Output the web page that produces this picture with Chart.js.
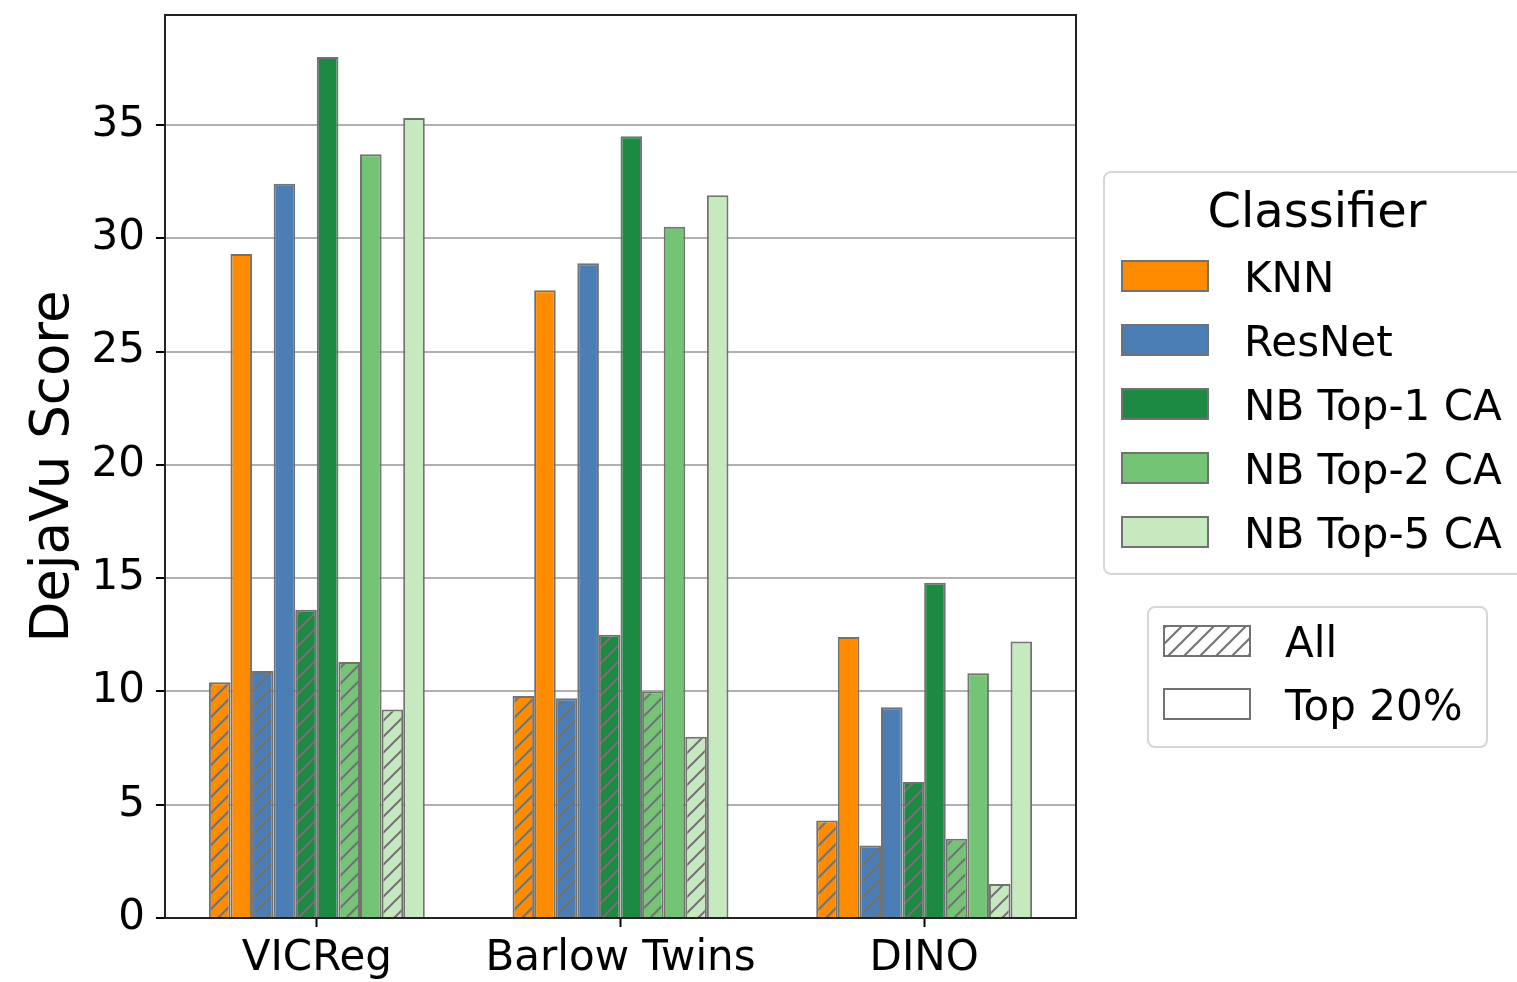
<!DOCTYPE html>
<html>
<head>
<meta charset="utf-8">
<script src="https://cdn.jsdelivr.net/npm/chart.js@4.4.1/dist/chart.umd.min.js"></script>
<style>
  html, body { margin: 0; padding: 0; background: #fff; overflow: hidden; }
  #wrap { position: relative; width: 1517px; height: 982px; }
</style>
</head>
<body>
<div id="wrap"><canvas id="chart" width="1517" height="982"></canvas></div>
<script>
// Methods on the x axis
const categories = ['VICReg', 'Barlow Twins', 'DINO'];

// Classifier names and the two evaluation subsets
const classifiers = ['KNN', 'ResNet', 'NB Top-1 CA', 'NB Top-2 CA', 'NB Top-5 CA'];
const subsets = ['All', 'Top 20%'];
const legendTitle = 'Classifier';

// DejaVu scores per method (VICReg, Barlow Twins, DINO)
const knnAll    = [10.4,  9.8,  4.3];
const knnTop    = [29.3, 27.7, 12.4];
const resnetAll = [10.9,  9.7,  3.2];
const resnetTop = [32.4, 28.9,  9.3];
const nb1All    = [13.6, 12.5,  6.0];
const nb1Top    = [38.0, 34.5, 14.8];
const nb2All    = [11.3, 10.0,  3.5];
const nb2Top    = [33.7, 30.5, 10.8];
const nb5All    = [ 9.2,  8.0,  1.5];
const nb5Top    = [35.3, 31.9, 12.2];

// Y axis tick values
const yTicks = [0, 5, 10, 15, 20, 25, 30, 35];

const colors = ['#ff8c00', '#4a7eb4', '#1d8a44', '#74c476', '#c7e9c0'];
const allSeries = [knnAll, resnetAll, nb1All, nb2All, nb5All];
const topSeries = [knnTop, resnetTop, nb1Top, nb2Top, nb5Top];

const FONT = 'DejaVu Sans';
const EDGE = '#727272';

// Diagonal "/" hatch pattern over a solid fill
function hatch(fill) {
  const s = 16;
  const c = document.createElement('canvas');
  c.width = s; c.height = s;
  const g = c.getContext('2d');
  g.fillStyle = fill;
  g.fillRect(0, 0, s, s);
  g.strokeStyle = EDGE;
  g.lineWidth = 2;
  g.beginPath();
  g.moveTo(-2, s + 2); g.lineTo(s + 2, -2);
  g.moveTo(-2, 2); g.lineTo(2, -2);
  g.moveTo(s - 2, s + 2); g.lineTo(s + 2, s - 2);
  g.stroke();
  return g.createPattern(c, 'repeat');
}

const datasets = [];
classifiers.forEach((name, i) => {
  datasets.push({
    label: name + ' (' + subsets[0] + ')',
    data: allSeries[i],
    backgroundColor: hatch(colors[i]),
    borderColor: EDGE,
    borderWidth: 2
  });
  datasets.push({
    label: name + ' (' + subsets[1] + ')',
    data: topSeries[i],
    backgroundColor: colors[i],
    borderColor: EDGE,
    borderWidth: 2
  });
});

// Full box around the plotting area
const frame = {
  id: 'frame',
  afterDatasetsDraw(chart) {
    const { ctx, chartArea: a } = chart;
    ctx.save();
    ctx.strokeStyle = '#222';
    ctx.lineWidth = 2;
    ctx.strokeRect(a.left, a.top, a.right - a.left, a.bottom - a.top);
    ctx.restore();
  }
};

function roundRect(ctx, x, y, w, h, r) {
  ctx.beginPath();
  ctx.moveTo(x + r, y);
  ctx.lineTo(x + w - r, y);
  ctx.arcTo(x + w, y, x + w, y + r, r);
  ctx.lineTo(x + w, y + h - r);
  ctx.arcTo(x + w, y + h, x + w - r, y + h, r);
  ctx.lineTo(x + r, y + h);
  ctx.arcTo(x, y + h, x, y + h - r, r);
  ctx.lineTo(x, y + r);
  ctx.arcTo(x, y, x + r, y, r);
  ctx.closePath();
}

// Two legend boxes to the right of the plot: classifier colours and subset hatching
const legends = {
  id: 'legends',
  afterDraw(chart) {
    const ctx = chart.ctx;
    ctx.save();
    ctx.textBaseline = 'alphabetic';

    // Classifier legend
    roundRect(ctx, 1104, 172, 440, 402, 7);
    ctx.fillStyle = 'rgba(255,255,255,0.8)';
    ctx.fill();
    ctx.strokeStyle = '#d6d6d6';
    ctx.lineWidth = 2;
    ctx.stroke();

    ctx.fillStyle = '#000';
    ctx.font = '48px "' + FONT + '"';
    ctx.textAlign = 'center';
    ctx.fillText(legendTitle, 1317, 227);

    ctx.textAlign = 'left';
    ctx.font = '42px "' + FONT + '"';
    classifiers.forEach((name, i) => {
      const y = 260 + i * 64;
      ctx.fillStyle = colors[i];
      ctx.fillRect(1121, y, 88, 32);
      ctx.strokeStyle = EDGE;
      ctx.lineWidth = 2;
      ctx.strokeRect(1122, y + 1, 86, 30);
      ctx.fillStyle = '#000';
      ctx.fillText(name, 1244, y + 32);
    });

    // Subset legend
    roundRect(ctx, 1148, 607, 339, 140, 7);
    ctx.fillStyle = 'rgba(255,255,255,0.8)';
    ctx.fill();
    ctx.strokeStyle = '#d6d6d6';
    ctx.lineWidth = 2;
    ctx.stroke();

    const swatches = [hatch('#ffffff'), '#ffffff'];
    subsets.forEach((name, i) => {
      const y = 625 + i * 63;
      ctx.fillStyle = swatches[i];
      ctx.fillRect(1163, y, 88, 32);
      ctx.strokeStyle = EDGE;
      ctx.lineWidth = 2;
      ctx.strokeRect(1164, y + 1, 86, 30);
      ctx.fillStyle = '#000';
      ctx.fillText(name, 1285, y + 32);
    });
    ctx.restore();
  }
};

new Chart(document.getElementById('chart'), {
  type: 'bar',
  data: { labels: categories, datasets },
  plugins: [frame, legends],
  options: {
    responsive: false,
    animation: false,
    events: [],
    layout: { padding: { left: 0, right: 441, top: 15, bottom: 0 } },
    datasets: { bar: { categoryPercentage: 0.711, barPercentage: 1 } },
    plugins: {
      legend: { display: false },
      tooltip: { enabled: false }
    },
    scales: {
      x: {
        offset: true,
        grid: {
          display: true,
          drawOnChartArea: false,
          offset: false,
          tickLength: 9,
          tickColor: '#000',
          tickWidth: 2
        },
        border: { display: false },
        ticks: { font: { family: FONT, size: 42 }, color: '#000', padding: 7, maxRotation: 0 },
        afterFit(s) { s.height = 64; s.paddingLeft = 0; s.paddingRight = 0; }
      },
      y: {
        min: 0,
        max: 39.85,
        afterBuildTicks(s) { s.ticks = yTicks.map(v => ({ value: v })); },
        grid: {
          color: '#b0b0b0',
          lineWidth: 2,
          tickColor: '#000',
          tickLength: 9,
          tickWidth: 2
        },
        border: { display: false },
        ticks: { font: { family: FONT, size: 42 }, color: '#000', padding: 11 },
        title: {
          display: true,
          text: 'DejaVu Score',
          font: { family: FONT, size: 53 },
          color: '#000',
          padding: { top: 22, bottom: 0 }
        },
        afterFit(s) { s.width = 165; s.paddingTop = 0; s.paddingBottom = 0; }
      }
    }
  }
});
</script>
</body>
</html>
